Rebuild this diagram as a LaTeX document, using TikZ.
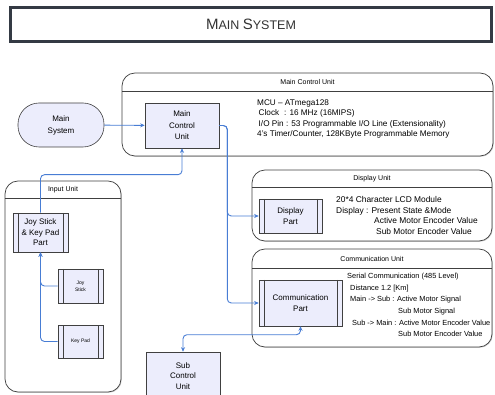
\documentclass[tikz,border=0pt]{standalone}
\usepackage{fontspec}
\setmainfont{Liberation Sans}
\definecolor{boxfill}{RGB}{236,237,252}
\definecolor{linkblue}{RGB}{72,125,212}
\definecolor{edgegray}{RGB}{64,64,64}
\definecolor{titledark}{RGB}{52,58,68}
\usetikzlibrary{arrows.meta, positioning, shadows}

\begin{document}
\begin{tikzpicture}[
    x=1pt, y=-1pt,
    titlebox/.style={rectangle, draw=titledark, line width=2.2pt, fill=white,
                     minimum width=482pt, minimum height=35pt, text=black!80},
    unit/.style={rectangle, rounded corners=13pt, draw=edgegray, line width=0.7pt, fill=white,
                 drop shadow={shadow xshift=0.8pt, shadow yshift=-0.8pt, opacity=0.35}},
    unitlab/.style={font=\fontsize{7}{8}\selectfont},
    blk/.style={rectangle, draw=edgegray, fill=boxfill, line width=0.6pt, align=center,
                font=\fontsize{8}{10.5}\selectfont},
    part/.style={blk, path picture={
        \draw[edgegray, line width=0.5pt]
          ([xshift=5pt]path picture bounding box.north west) -- ([xshift=5pt]path picture bounding box.south west)
          ([xshift=-5pt]path picture bounding box.north east) -- ([xshift=-5pt]path picture bounding box.south east);}},
    info/.style={align=left, anchor=west, inner sep=0pt},
    arr/.style={-{Stealth[length=4.5pt, width=4pt]}, linkblue, line width=0.9pt, rounded corners=4pt},
    darr/.style={{Stealth[length=4.5pt, width=4pt]}-{Stealth[length=4.5pt, width=4pt]}, linkblue,
                 line width=0.9pt, rounded corners=4pt}
  ]
  \clip (0,0) rectangle (495,395);

  % title
  \node[titlebox] (title) at (251,24.5)
    {{\fontsize{15}{15}\selectfont M}{\fontsize{12.5}{15}\selectfont AIN }{\fontsize{15}{15}\selectfont S}{\fontsize{12.5}{15}\selectfont YSTEM}};
  \draw[titledark, line width=0.6pt] ([shift={(2.6pt,-2.6pt)}]title.north west) rectangle ([shift={(-2.6pt,2.6pt)}]title.south east);

  % units
  \node[unit, minimum width=371pt, minimum height=83pt] (mcuU) at (307.5,114.5) {};
  \draw[edgegray, line width=0.6pt] (122,91) -- (493,91);
  \node[unitlab] (mcuUlab) at (307.5,82) {Main Control Unit};

  \node[unit, minimum width=240pt, minimum height=71pt] (dispU) at (372,205.5) {};
  \draw[edgegray, line width=0.6pt] (252,187) -- (492,187);
  \node[unitlab] (dispUlab) at (372,178.5) {Display Unit};

  \node[unit, minimum width=240pt, minimum height=98pt] (commU) at (372,298) {};
  \draw[edgegray, line width=0.6pt] (252,268) -- (492,268);
  \node[unitlab] (commUlab) at (372,258.5) {Communication Unit};

  \node[unit, minimum width=116pt, minimum height=211pt] (inU) at (63,286.5) {};
  \draw[edgegray, line width=0.6pt] (5,198) -- (121,198);
  \node[unitlab] (inUlab) at (63,189.5) {Input Unit};

  % blocks
  \node[blk, rounded corners=21pt, minimum width=86pt, minimum height=44pt,
        font=\fontsize{8}{12}\selectfont] (msys) at (61,125) {Main\\System};
  \node[blk, minimum width=74pt, minimum height=45pt, font=\fontsize{8}{11.5}\selectfont]
    (mcu) at (182,125.5) {Main\\Control\\Unit};
  \node[part, minimum width=63pt, minimum height=34pt] (disp) at (290.5,216) {Display\\Part};
  \node[part, minimum width=83pt, minimum height=46pt] (comm) at (300.5,303) {Communication\\Part};
  \node[part, minimum width=55pt, minimum height=39pt] (jk) at (40.5,232.5) {Joy Stick\\\& Key Pad\\Part};
  \node[part, minimum width=45pt, minimum height=34pt, font=\fontsize{5}{7}\selectfont]
    (joy) at (80.5,286) {Joy\\Stick};
  \node[part, minimum width=45pt, minimum height=33pt, font=\fontsize{5}{7}\selectfont]
    (key) at (80.5,341.5) {Key Pad};
  \node[blk, minimum width=74pt, minimum height=48pt, font=\fontsize{8}{10.7}\selectfont]
    (sub) at (183,376) {Sub\\Control\\Unit};

  % texts
  \node[info, font=\fontsize{8.2}{10.3}\selectfont] (mcutxt) at (257,119)
    {MCU -- ATmega128\\
     \hspace*{1.5pt}Clock\hspace{5pt}: 16 MHz (16MIPS)\\
     \hspace*{1.5pt}I/O Pin : 53 Programmable I/O Line (Extensionality)\\
     4's Timer/Counter, 128KByte Programmable Memory};
  \node[info, font=\fontsize{8.4}{10.8}\selectfont] (disptxt) at (336,215.5)
    {20*4 Character LCD Module\\
     Display : Present State \&Mode\\
     \hspace*{38pt}Active Motor Encoder Value\\
     \hspace*{40pt}Sub Motor Encoder Value};
  \node[info, font=\fontsize{7.4}{11.6}\selectfont] (commtxt) at (347,305)
    {Serial Communication (485 Level)\\
     \hspace*{3pt}Distance 1.2 [Km]\\
     \hspace*{3pt}Main -> Sub : Active Motor Signal\\
     \hspace*{51pt}Sub Motor Signal\\
     \hspace*{5pt}Sub -> Main : Active Motor Encoder Value\\
     \hspace*{51pt}Sub Motor Encoder Value};

  % links
  \draw[arr] (msys) -- (mcu);
  \draw[arr] (mcu.east) -- ++(8,0) |- (disp.west);
  \draw[arr] (mcu.east) -- ++(8,0) |- (comm.west);
  \draw[arr] (jk.north) -- ++(0,-38) -| (mcu.south);
  \draw[arr] (joy.west) -| (jk.south);
  \draw[arr] (key.west) -| (jk.south);
  \draw[darr] (sub.north) -- ++(0,-17) -| (comm.south);
\end{tikzpicture}
\end{document}
